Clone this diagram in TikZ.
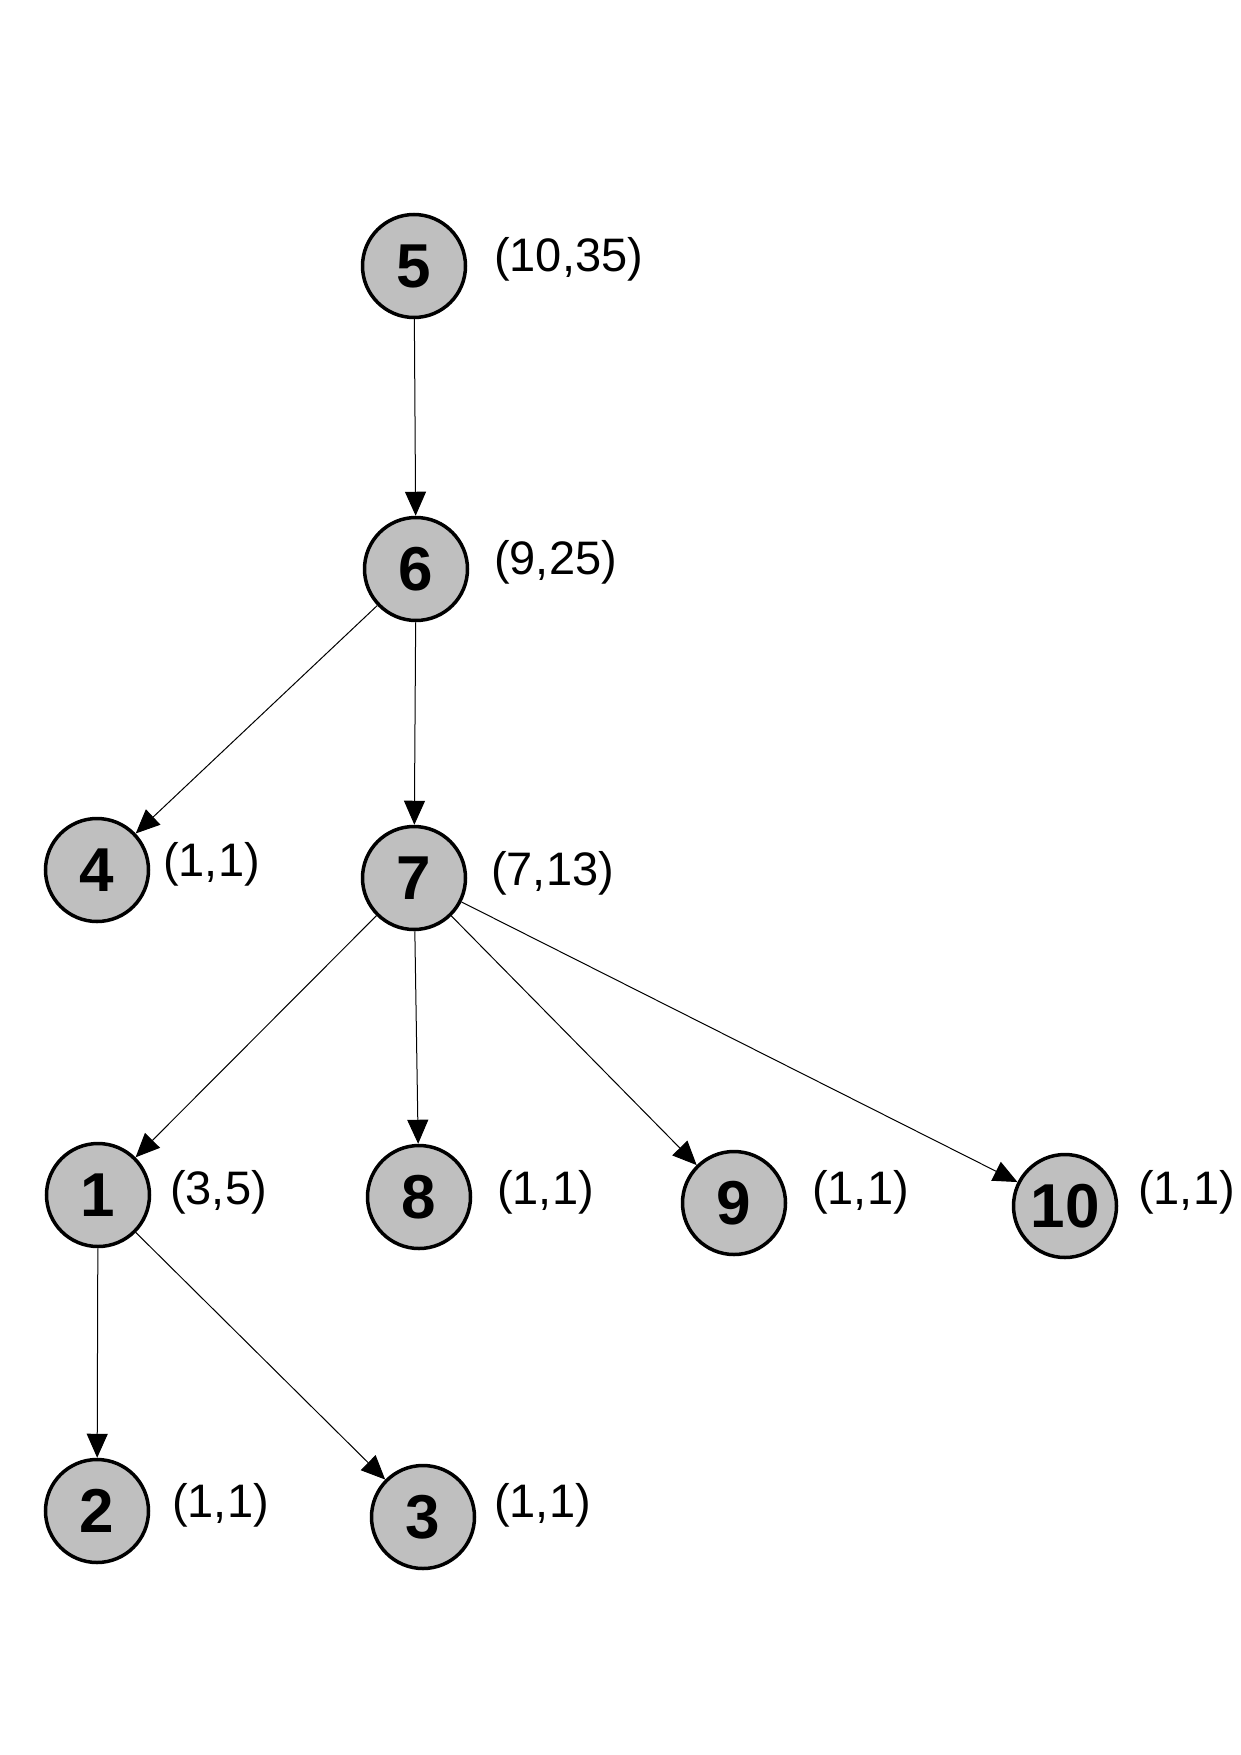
\documentclass[tikz,border=0pt]{standalone}
\usepackage{fontspec}
\setmainfont{Liberation Sans}
\usetikzlibrary{arrows.meta}
\begin{document}
\begin{tikzpicture}[x=1pt,y=-1pt,
  vert/.style={circle,draw=black,line width=3.5pt,fill=black!25,minimum size=103pt,inner sep=0pt,
    font=\fontsize{62}{62}\selectfont\bfseries},
  lab/.style={anchor=west,inner sep=0pt,font=\fontsize{47}{47}\selectfont},
  edge/.style={line width=1pt,-{Triangle[length=24pt,width=21pt]}}]
\useasboundingbox (0,0) rectangle (1240,1755);
\node[vert] (n5) at (414,266) {5};
\node[vert] (n6) at (416,569) {6};
\node[vert] (n4) at (97,870) {4};
\node[vert] (n7) at (414,878) {7};
\node[vert] (n1) at (98,1195) {1};
\node[vert] (n8) at (419,1197) {8};
\node[vert] (n9) at (734,1203) {9};
\node[vert] (n10) at (1065,1206) {10};
\node[vert] (n2) at (97,1511) {2};
\node[vert] (n3) at (423,1517) {3};
\node[lab] (l5) at (494,259) {(10,35)};
\node[lab] (l6) at (494,562) {(9,25)};
\node[lab] (l4) at (163,864) {(1,1)};
\node[lab] (l7) at (491,873) {(7,13)};
\node[lab] (l1) at (170,1192) {(3,5)};
\node[lab] (l8) at (497,1192) {(1,1)};
\node[lab] (l9) at (812,1192) {(1,1)};
\node[lab] (l10) at (1138,1192) {(1,1)};
\node[lab] (l2) at (172,1505) {(1,1)};
\node[lab] (l3) at (494,1505) {(1,1)};
\draw[edge] (n5) -- (n6);
\draw[edge] (n6) -- (n4);
\draw[edge] (n6) -- (n7);
\draw[edge] (n7) -- (n1);
\draw[edge] (n7) -- (n8);
\draw[edge] (n7) -- (n9);
\draw[edge] (n7) -- (n10);
\draw[edge] (n1) -- (n2);
\draw[edge] (n1) -- (n3);
\end{tikzpicture}
\end{document}
